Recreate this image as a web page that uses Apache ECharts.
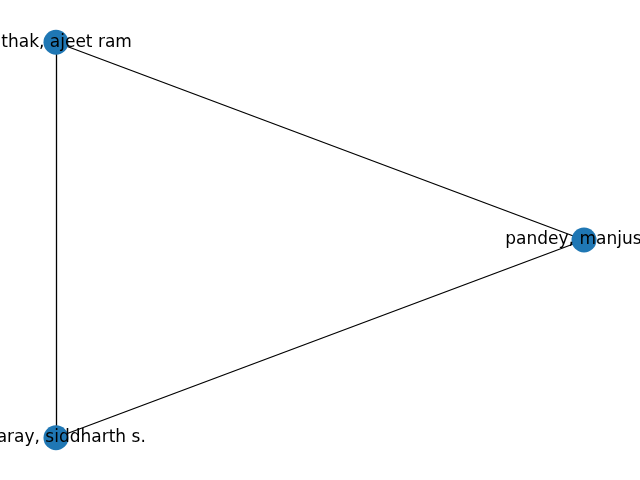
<!DOCTYPE html>
<html>
<head>
<meta charset="utf-8">
<script src="https://cdn.jsdelivr.net/npm/echarts@6/dist/echarts.min.js"></script>
<style>
  html, body { margin: 0; padding: 0; background: #fff; }
  #chart { width: 640px; height: 480px; }
</style>
</head>
<body>
<div id="chart"></div>
<script>
// node names and layout positions (data units)
var nodeNames = ['pathak, ajeet ram', 'pandey, manjusha', 'acharay, siddharth s.'];
var nodeX = [-0.5, 1.0, -0.5];
var nodeY = [0.866, 0.0, -0.866];
// edges as pairs of node indexes
var edgeFrom = [0, 0, 1];
var edgeTo = [1, 2, 2];

var nodes = nodeNames.map(function (n, i) {
    return { name: n, value: [nodeX[i], nodeY[i]] };
});
var links = edgeFrom.map(function (s, i) {
    return { source: nodeNames[s], target: nodeNames[edgeTo[i]] };
});

var option = {
    backgroundColor: '#ffffff',
    animation: false,
    grid: { left: 0, right: 0, top: 0, bottom: 0 },
    xAxis: { type: 'value', min: -0.659, max: 1.159, show: false },
    yAxis: { type: 'value', min: -1.051, max: 1.051, show: false },
    series: [{
        type: 'graph',
        coordinateSystem: 'cartesian2d',
        symbol: 'circle',
        symbolSize: 25,
        itemStyle: { color: '#1f77b4' },
        lineStyle: { color: '#000000', width: 1.3, opacity: 1 },
        label: {
            show: true,
            position: 'inside',
            color: '#000000',
            fontSize: 17,
            fontFamily: 'DejaVu Sans'
        },
        emphasis: { disabled: true },
        data: nodes,
        links: links
    }]
};

var myChart = echarts.init(document.getElementById('chart'));
myChart.setOption(option);
</script>
</body>
</html>
